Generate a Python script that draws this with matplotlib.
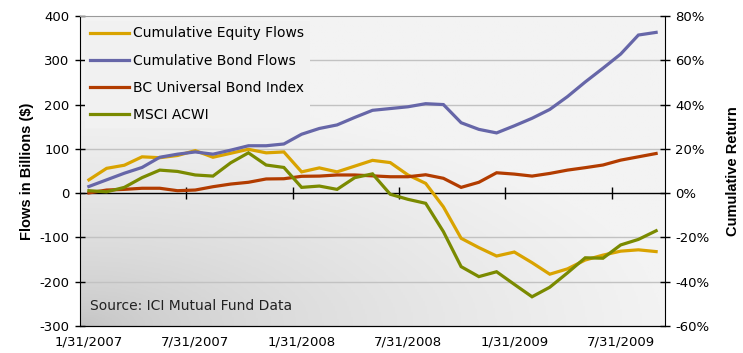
#!/usr/bin/env python3
import numpy as np
import pandas as pd
import matplotlib

matplotlib.use("Agg")
import matplotlib.pyplot as plt
from matplotlib.colors import LinearSegmentedColormap
from matplotlib.ticker import PercentFormatter, FixedLocator

# month-end observations, Jan 2007 .. Sep 2009
months = pd.date_range("2007-01-31", "2009-09-30", freq="ME")

# cumulative flows, $ billions (left axis)
equity_flows = [30, 56, 63, 82, 80, 85, 96, 81, 90, 99, 91, 93, 48, 57, 48, 61,
                74, 69, 41, 22, -31, -102, -123, -142, -133, -157, -183, -171,
                -151, -140, -131, -128, -132]
bond_flows = [15, 30, 45, 58, 81, 88, 93, 88, 97, 107, 107, 111, 133, 146, 154,
              171, 187, 191, 195, 202, 200, 159, 144, 136, 152, 169, 189, 218,
              251, 282, 314, 357, 363]

# cumulative returns, fraction (right axis)
bc_universal = [0.001, 0.014, 0.017, 0.022, 0.022, 0.011, 0.014, 0.029, 0.041,
                0.049, 0.064, 0.065, 0.076, 0.077, 0.082, 0.082, 0.078, 0.074,
                0.074, 0.083, 0.067, 0.026, 0.049, 0.092, 0.086, 0.077, 0.089,
                0.104, 0.115, 0.127, 0.149, 0.164, 0.179]
msci_acwi = [0.011, 0.006, 0.026, 0.070, 0.104, 0.098, 0.082, 0.077, 0.137,
             0.182, 0.127, 0.116, 0.026, 0.032, 0.017, 0.070, 0.087, -0.005,
             -0.028, -0.046, -0.174, -0.332, -0.377, -0.355, -0.412, -0.468,
             -0.425, -0.360, -0.292, -0.294, -0.234, -0.209, -0.170]

series_labels = ["Cumulative Equity Flows", "Cumulative Bond Flows",
                 "BC Universal Bond Index", "MSCI ACWI"]
series_colors = ["#d9a300", "#6666a8", "#b23c00", "#7a8a00"]

plt.rcParams["font.family"] = ["DejaVu Sans"]
plt.rcParams["axes.unicode_minus"] = False


def month_label(d: pd.Timestamp) -> str:
    return f"{d.month}/{d.day}/{d.year}"


def draw_background(ax) -> None:
    # soft grey wash, darkest in the lower left corner
    gx, gy = np.meshgrid(np.linspace(0, 1, 300), np.linspace(0, 1, 200))
    t = np.clip(np.hypot(gx * 1.1, gy * 1.5) / 1.1, 0, 1) ** 0.6
    cmap = LinearSegmentedColormap.from_list("wash", ["#c2c2c2", "#f3f3f3"])
    ax.imshow(t, cmap=cmap, origin="lower", extent=[0, 1, 0, 1],
              transform=ax.transAxes, aspect="auto", zorder=0)


def main() -> None:
    fig = plt.figure(figsize=(7.43, 3.53), dpi=100)
    ax = fig.add_axes([0.1077, 0.0765, 0.7873, 0.8782])
    x = np.arange(len(months))

    draw_background(ax)
    ax.set_xlim(-0.5, len(months) - 0.5)
    ax.set_ylim(-300, 400)
    ax.set_yticks(range(-300, 401, 100))
    for v in range(-300, 400, 100):
        if v not in (-300, 0):
            ax.axhline(v, color="#c2c2c2", lw=1.0, zorder=1)

    lines = []
    for vals, lab, col in zip([equity_flows, bond_flows], series_labels[:2], series_colors[:2]):
        (ln,) = ax.plot(x, vals, color=col, lw=2.3, label=lab, zorder=3,
                        solid_joinstyle="miter")
        lines.append(ln)

    label_idx = list(range(0, len(months), 6))
    ax.set_xticks(label_idx)
    ax.set_xticklabels([month_label(months[i]) for i in label_idx], fontsize=9.5)
    ax.tick_params(axis="x", length=0, pad=7)
    ax.tick_params(axis="y", direction="inout", length=7, width=1, labelsize=9.5, pad=4)
    ax.spines["top"].set_color("#9a9a9a")
    ax.spines["right"].set_visible(False)

    # zero line with month-boundary ticks
    zero_axis = ax.secondary_xaxis(300 / 700)
    zero_axis.xaxis.set_major_locator(FixedLocator([i - 0.5 for i in label_idx[1:]]))
    zero_axis.tick_params(direction="inout", length=8, width=1, labelbottom=False,
                          labeltop=False)
    zero_axis.spines["bottom"].set_linewidth(1.0)

    ax2 = ax.twinx()
    ax2.set_ylim(-0.6, 0.8)
    ax2.set_yticks(np.arange(-0.6, 0.81, 0.2))
    ax2.yaxis.set_major_formatter(PercentFormatter(1.0, decimals=0))
    ax2.tick_params(axis="y", direction="inout", length=7, width=1, labelsize=9.5, pad=4)
    ax2.spines["top"].set_visible(False)
    ax2.spines["left"].set_visible(False)
    for vals, lab, col in zip([bc_universal, msci_acwi], series_labels[2:], series_colors[2:]):
        (ln,) = ax2.plot(x, vals, color=col, lw=2.3, label=lab, zorder=3,
                         solid_joinstyle="miter")
        lines.append(ln)

    ax.set_ylabel("Flows in Billions ($)", family="Liberation Sans", fontweight="bold",
                  fontsize=10.5, labelpad=4)
    ax2.set_ylabel("Cumulative Return", family="Liberation Sans", fontweight="bold",
                   fontsize=10.5, labelpad=12)

    # opaque legend box so the gridlines stop at its edge
    leg = ax2.legend(lines, series_labels, loc="upper left", frameon=True, fontsize=10,
                     handlelength=2.8, handletextpad=0.3, labelspacing=0.95,
                     bbox_to_anchor=(0.0, 1.0), borderaxespad=0.35, borderpad=0.4,
                     fancybox=False)
    leg.get_frame().set_facecolor("#f1f1f1")
    leg.get_frame().set_edgecolor("none")
    leg.get_frame().set_alpha(1.0)
    ax.text(0.017, 0.065, "Source: ICI Mutual Fund Data", transform=ax.transAxes,
            fontsize=10, va="center", ha="left", color="#222222")

    fig.savefig("out.png", dpi=100)
    plt.close(fig)


if __name__ == "__main__":
    main()
